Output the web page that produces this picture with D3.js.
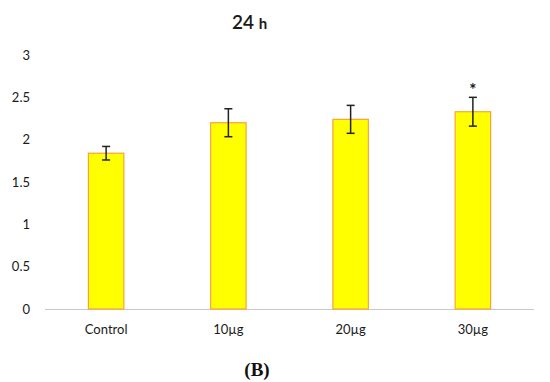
<!DOCTYPE html>
<html>
<head>
<meta charset="utf-8">
<script src="https://cdn.jsdelivr.net/npm/d3@7"></script>
<style>
  body { margin: 0; background: #fff; }
  .tick text { font-family: Lato, "Open Sans", sans-serif; font-size: 13px; fill: #1a1a1a; }
  .label { font-family: Lato, "Open Sans", sans-serif; fill: #1a1a1a; }
</style>
</head>
<body>
<div id="graphic"></div>
<script>
// values
var groups = ["Control", "10\u00b5g", "20\u00b5g", "30\u00b5g"];
var means = [1.84, 2.2, 2.24, 2.33];
var errors = [0.08, 0.165, 0.165, 0.17];
var stars = ["", "", "", "*"];
var yTicks = [0, 0.5, 1, 1.5, 2, 2.5, 3];

var margin = {top: 55, right: 16, bottom: 73, left: 45};
var width = 550 - margin.left - margin.right,
    height = 382 - margin.top - margin.bottom;

var svg = d3.select("#graphic").append("svg")
    .attr("width", 550)
    .attr("height", 382);

var canvas = svg.append("g")
    .attr("transform", "translate(" + margin.left + "," + margin.top + ")");

var x = d3.scaleBand()
    .domain(groups)
    .range([0, width])
    .paddingInner(0.71)
    .paddingOuter(0.355);

var y = d3.scaleLinear()
    .domain([0, 3])
    .range([height, 0]);

// y axis: labels only
var gy = canvas.append("g")
    .attr("class", "y axis")
    .attr("transform", "translate(-12,0)")
    .call(d3.axisLeft(y).tickValues(yTicks).tickSize(0).tickFormat(d => d));
gy.select(".domain").remove();

// baseline
canvas.append("line")
    .attr("x1", 0)
    .attr("x2", width)
    .attr("y1", y(0) + 0.5)
    .attr("y2", y(0) + 0.5)
    .attr("stroke", "#c8c8c8")
    .attr("stroke-width", 1.2);

var bars = canvas.selectAll(".bar")
    .data(groups)
    .enter()
    .append("g")
    .attr("class", "bar");

bars.append("rect")
    .attr("x", d => x(d))
    .attr("width", x.bandwidth())
    .attr("y", (d, i) => y(means[i]))
    .attr("height", (d, i) => y(0) - y(means[i]))
    .attr("fill", "#ffff00")
    .attr("stroke", "#f7a33c")
    .attr("stroke-width", 1.2);

// error bars
var cx = d => x(d) + x.bandwidth() / 2;
bars.append("line")
    .attr("x1", cx).attr("x2", cx)
    .attr("y1", (d, i) => y(means[i] + errors[i]))
    .attr("y2", (d, i) => y(means[i] - errors[i]))
    .attr("stroke", "#222").attr("stroke-width", 1.5);
bars.append("line")
    .attr("x1", d => cx(d) - 4).attr("x2", d => cx(d) + 4)
    .attr("y1", (d, i) => y(means[i] + errors[i]))
    .attr("y2", (d, i) => y(means[i] + errors[i]))
    .attr("stroke", "#222").attr("stroke-width", 1.5);
bars.append("line")
    .attr("x1", d => cx(d) - 4).attr("x2", d => cx(d) + 4)
    .attr("y1", (d, i) => y(means[i] - errors[i]))
    .attr("y2", (d, i) => y(means[i] - errors[i]))
    .attr("stroke", "#222").attr("stroke-width", 1.5);

// significance star
bars.append("text")
    .attr("class", "label")
    .attr("x", cx)
    .attr("y", (d, i) => y(means[i] + errors[i]) - 1)
    .attr("text-anchor", "middle")
    .attr("font-size", "17px")
    .attr("font-weight", "bold")
    .text((d, i) => stars[i]);

// x labels
canvas.append("g").selectAll("text")
    .data(groups)
    .enter()
    .append("text")
    .attr("class", "label")
    .attr("x", cx)
    .attr("y", height + 25)
    .attr("text-anchor", "middle")
    .attr("font-size", "13px")
    .text(d => d);

// title
var title = svg.append("text")
    .attr("class", "label")
    .attr("x", 232)
    .attr("y", 29)
    .attr("font-size", "19px")
    .attr("font-weight", "600");
title.append("tspan").text("24 ");
title.append("tspan").attr("font-size", "15px").attr("font-weight", "bold").text("h");

// panel letter
svg.append("text")
    .attr("x", 257)
    .attr("y", 376)
    .attr("text-anchor", "middle")
    .attr("font-family", "'Liberation Serif', 'DejaVu Serif', serif")
    .attr("font-weight", "bold")
    .attr("font-size", "19px")
    .attr("fill", "#111")
    .text("(B)");
</script>
</body>
</html>
